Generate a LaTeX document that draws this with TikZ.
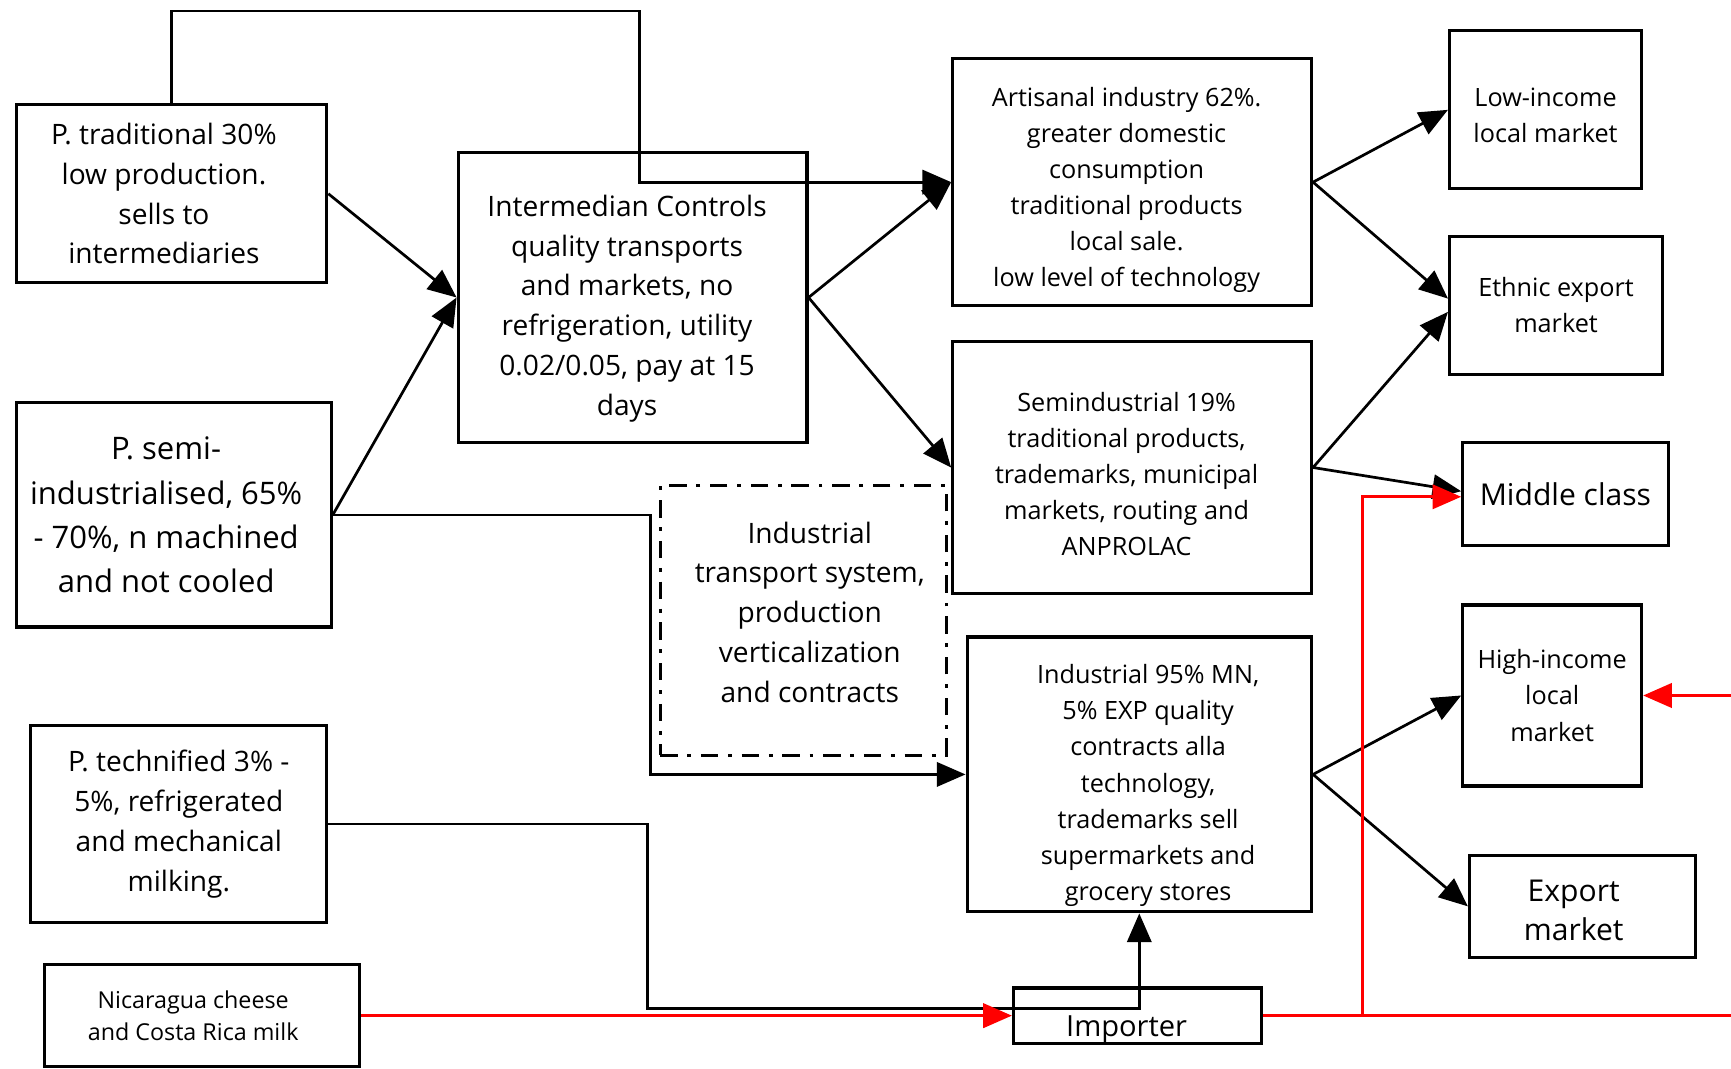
\documentclass[tikz,border=0pt]{standalone}
\usepackage{fontspec}
\setmainfont{Open Sans}
\usepackage{tikz}
\usetikzlibrary{arrows.meta}
\usetikzlibrary{shapes}

\newcommand{\txtbig}{\fontsize{16}{22.8}\selectfont}
\newcommand{\txtmain}{\fontsize{14.5}{20.5}\selectfont}
\newcommand{\txtmid}{\fontsize{13}{18.6}\selectfont}
\newcommand{\txtsmall}{\fontsize{12}{16.5}\selectfont}

\tikzset{
    box/.style={draw, line width=1.6pt, align=center, inner sep=0pt},
    dashbox/.style={draw, line width=1.6pt, dash pattern=on 9pt off 5pt on 2pt off 5pt,
        align=center, inner sep=0pt},
    txt/.style={align=center, inner sep=0pt},
    conn/.style={line width=1.4pt, -{Triangle[length=5.2mm,width=4.4mm]}},
    redconn/.style={red, line width=1.6pt, -{Triangle[length=5.2mm,width=4.4mm]}},
    redline/.style={red, line width=1.6pt}
}

\begin{document}
\begin{tikzpicture}
        \useasboundingbox (0, 0) rectangle (31.36, 19.36);

        \node[box, minimum width=5.62cm, minimum height=3.22cm] (trad) at (3.11, 15.85) {};
        \node[txt, font=\txtmain] (tradtxt) at ([xshift=-0.14cm]trad.center)
            {P. traditional 30\%\\low production.\\sells to\\intermediaries};
        \node[box, minimum width=5.70cm, minimum height=4.06cm] (semi) at (3.15, 10.03) {};
        \node[txt, font=\txtbig] (semitxt) at ([xshift=-0.14cm]semi.center)
            {P. semi-\\industrialised, 65\%\\- 70\%, n machined\\and not cooled};
        \node[box, minimum width=5.36cm, minimum height=3.58cm, font=\txtmain] (tech) at (3.24, 4.43)
            {P. technified 3\% -\\5\%, refrigerated\\and mechanical\\milking.};
        \node[box, minimum width=5.72cm, minimum height=1.84cm] (nic) at (3.66, 0.96) {};
        \node[txt, font=\txtsmall] (nictxt) at ([xshift=-0.16cm]nic.center)
            {Nicaragua cheese\\and Costa Rica milk};

        \node[box, minimum width=6.32cm, minimum height=5.26cm] (inter) at (11.46, 13.97) {};
        \node[txt, font=\txtmain] (intertxt) at ([xshift=-0.1cm, yshift=-0.2cm]inter.center)
            {Intermedian Controls\\quality transports\\and markets, no\\refrigeration, utility\\0.02/0.05, pay at 15\\days};
        \node[dashbox, minimum width=5.18cm, minimum height=4.88cm] (indsys) at (14.55, 8.12) {};
        \node[txt, font=\txtmain] (indsystxt) at ([xshift=0.12cm, yshift=0.15cm]indsys.center)
            {Industrial\\transport system,\\production\\verticalization\\and contracts};

        \node[box, minimum width=6.5cm, minimum height=4.48cm] (art) at (20.51, 16.06) {};
        \node[txt, font=\txtmid] (arttxt) at ([xshift=-0.1cm, yshift=-0.14cm]art.center)
            {Artisanal industry 62\%.\\greater domestic\\consumption\\traditional products\\local sale.\\low level of technology};
        \node[box, minimum width=6.5cm, minimum height=4.58cm] (semind) at (20.51, 10.89) {};
        \node[txt, font=\txtmid] (semindtxt) at ([xshift=-0.1cm, yshift=-0.12cm]semind.center)
            {Semindustrial 19\%\\traditional products,\\trademarks, municipal\\markets, routing and\\ANPROLAC};
        \node[box, minimum width=6.24cm, minimum height=4.98cm] (indu) at (20.64, 5.33) {};
        \node[txt, font=\txtmid] (indutxt) at ([xshift=0.16cm, yshift=-0.2cm]indu.center)
            {Industrial 95\% MN,\\5\% EXP quality\\contracts alla\\technology,\\trademarks sell\\supermarkets and\\grocery stores};
        \node[box, minimum width=4.5cm, minimum height=1.0cm] (importer) at (20.61, 0.96) {};
        \node[txt, font=\fontsize{15}{20}\selectfont] (importertxt) at ([xshift=-0.2cm, yshift=-0.26cm]importer.center)
            {Importer};

        \node[box, minimum width=3.48cm, minimum height=2.86cm] (low) at (28.0, 17.37) {};
        \node[txt, font=\txtmid] (lowtxt) at ([yshift=-0.1cm]low.center) {Low-income\\local market};
        \node[box, minimum width=3.86cm, minimum height=2.5cm, font=\txtmid] (ethnic) at (28.19, 13.83)
            {Ethnic export\\market};
        \node[box, minimum width=3.72cm, minimum height=1.86cm, font=\fontsize{15.5}{21}\selectfont] (middle) at (28.36, 10.41)
            {Middle class};
        \node[box, minimum width=3.24cm, minimum height=3.28cm, font=\txtmid] (high) at (28.12, 6.76)
            {High-income\\local\\market};
        \node[box, minimum width=4.1cm, minimum height=1.84cm] (export) at (28.67, 2.94) {};
        \node[txt, font=\fontsize{15.5}{20}\selectfont] (exporttxt) at ([xshift=-0.16cm, yshift=-0.07cm]export.center)
            {Export\\market};

        \draw[conn] (trad.north) |- (11.58, 19.16) |- (art.west);
        \draw[conn] (trad.east) -- (inter.west);
        \draw[conn] (semi.east) -- (inter.west);
        \draw[conn] (semi.east) -- ++(5.76, 0) |- (indu.west);
        \draw[conn] (tech.east) -- ++(5.78, 0) |- ([yshift=-1.72cm]indu.south) -- (indu.south);

        \draw[conn] (inter.east) -- (art.west);
        \draw[conn] (inter.east) -- (semind.west);

        \draw[conn] (art.east) -- (low.west);
        \draw[conn] (art.east) -- ([yshift=0.12cm]ethnic.west);
        \draw[conn] (semind.east) -- ([yshift=-0.12cm]ethnic.west);
        \draw[conn] (semind.east) -- ([yshift=0.05cm]middle.west);
        \draw[conn] (indu.east) -- (high.west);
        \draw[conn] (indu.east) -- (export.west);

        \coordinate (redsplit) at ([xshift=1.8cm]importer.east);
        \coordinate (edgelow) at (31.36, 0.96);
        \coordinate (edgehigh) at (31.36, 6.76);
        \draw[redconn] (nic.east) -- (importer.west);
        \draw[redline] (importer.east) -- (edgelow);
        \draw[redconn] (redsplit) |- ([yshift=-0.05cm]middle.west);
        \draw[redconn] (edgehigh) -- (high.east);
\end{tikzpicture}
\end{document}
